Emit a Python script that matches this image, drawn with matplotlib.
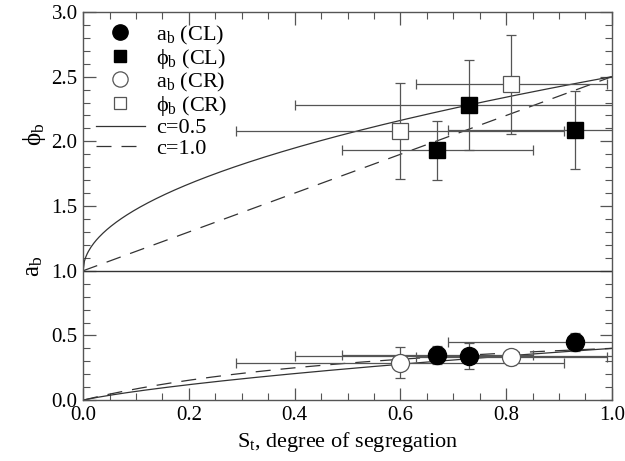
import numpy as np
import matplotlib
matplotlib.use("Agg")
import matplotlib.pyplot as plt
from matplotlib.lines import Line2D
from matplotlib.ticker import MultipleLocator, FormatStrFormatter

plt.rcParams['font.family'] = ['Liberation Serif', 'DejaVu Serif']
plt.rcParams['mathtext.fontset'] = 'custom'
plt.rcParams['mathtext.rm'] = 'Liberation Serif'
plt.rcParams['mathtext.it'] = 'Liberation Serif:italic'

# CL data (filled)
cl_x = [0.67, 0.73, 0.93]
cl_xerr = [0.18, 0.33, 0.24]
cl_phi = [1.93, 2.28, 2.09]
cl_phi_err = [0.23, 0.35, 0.30]
cl_a = [0.35, 0.34, 0.45]
cl_a_err = [0.07, 0.10, 0.07]

# CR data (open)
cr_x = [0.60, 0.81]
cr_xerr = [0.31, 0.18]
cr_phi = [2.08, 2.44]
cr_phi_err = [0.37, 0.38]
cr_a = [0.29, 0.33]
cr_a_err = [0.12, 0.06]

# model parameters
c_values = [0.5, 1.0]
c_styles = ['-', (0, (12, 8))]
phi0 = 1.0
k = 1.5

fig = plt.figure(figsize=(6.25, 4.61), dpi=100)
ax = fig.add_axes([0.133, 0.132, 0.846, 0.842])

ecol = '#555555'
lcol = '#333333'

s = np.linspace(0, 1, 400)
for c, ls in zip(c_values, c_styles):
    phi = phi0 + k * s ** c
    a = s / phi
    ax.plot(s, phi, color=lcol, lw=0.9, ls=ls)
    ax.plot(s, a, color=lcol, lw=0.9, ls=ls)

ax.axhline(1.0, color=lcol, lw=1.0)

ebkw = dict(fmt='none', ecolor=ecol, elinewidth=0.9, capsize=3.5, capthick=0.9)
ax.errorbar(cl_x, cl_phi, xerr=cl_xerr, yerr=cl_phi_err, **ebkw)
ax.errorbar(cl_x, cl_a, xerr=cl_xerr, yerr=cl_a_err, **ebkw)
ax.errorbar(cr_x, cr_phi, xerr=cr_xerr, yerr=cr_phi_err, **ebkw)
ax.errorbar(cr_x, cr_a, xerr=cr_xerr, yerr=cr_a_err, **ebkw)

ax.plot(cl_x, cl_a, 'o', ms=13, mfc='black', mec='black', zorder=5)
ax.plot(cl_x, cl_phi, 's', ms=12, mfc='black', mec='black', zorder=5)
ax.plot(cr_x, cr_a, 'o', ms=13, mfc='white', mec='#555555', mew=0.9, zorder=5)
ax.plot(cr_x, cr_phi, 's', ms=12, mfc='white', mec='#555555', mew=0.9, zorder=5)

ax.set_xlim(0, 1.0)
ax.set_ylim(0, 3.0)
ax.xaxis.set_major_locator(MultipleLocator(0.2))
ax.xaxis.set_minor_locator(MultipleLocator(0.05))
ax.yaxis.set_major_locator(MultipleLocator(0.5))
ax.yaxis.set_minor_locator(MultipleLocator(0.1))
ax.xaxis.set_major_formatter(FormatStrFormatter('%.1f'))
ax.yaxis.set_major_formatter(FormatStrFormatter('%.1f'))
ax.tick_params(which='both', direction='in', top=True, right=True, color='#555555')
ax.tick_params(which='major', length=9, width=0.9, labelsize=15, pad=4)
ax.tick_params(which='minor', length=5, width=0.8)
for sp in ax.spines.values():
    sp.set_color('#555555')
    sp.set_linewidth(1.0)

ax.set_xlabel(r'$\mathregular{S_t}$, degree of segregation', fontsize=16, labelpad=4)
ax.text(-0.092, 0.685, r'$\mathregular{\phi_b}$', transform=ax.transAxes, rotation=90,
        fontsize=18, ha='center', va='center')
ax.text(-0.092, 0.345, r'$\mathregular{a_b}$', transform=ax.transAxes, rotation=90,
        fontsize=18, ha='center', va='center')

handles = [
    Line2D([], [], ls='none', marker='o', ms=11, mfc='black', mec='black'),
    Line2D([], [], ls='none', marker='s', ms=9, mfc='black', mec='black'),
    Line2D([], [], ls='none', marker='o', ms=11, mfc='white', mec='#555555', mew=0.9),
    Line2D([], [], ls='none', marker='s', ms=9, mfc='white', mec='#555555', mew=0.9),
    Line2D([], [], color=lcol, lw=0.9, ls='-'),
    Line2D([], [], color=lcol, lw=0.9, ls=c_styles[1]),
]
labels = [r'$\mathregular{a_b}$ (CL)', r'$\mathregular{\phi_b}$ (CL)',
          r'$\mathregular{a_b}$ (CR)', r'$\mathregular{\phi_b}$ (CR)',
          'c=0.5', 'c=1.0']
ax.legend(handles, labels, loc='upper left', frameon=False, fontsize=16,
          handlelength=2.2, handletextpad=0.5, labelspacing=0.0,
          borderaxespad=0.3, bbox_to_anchor=(-0.005, 1.01))

fig.savefig('out.png', dpi=100)
